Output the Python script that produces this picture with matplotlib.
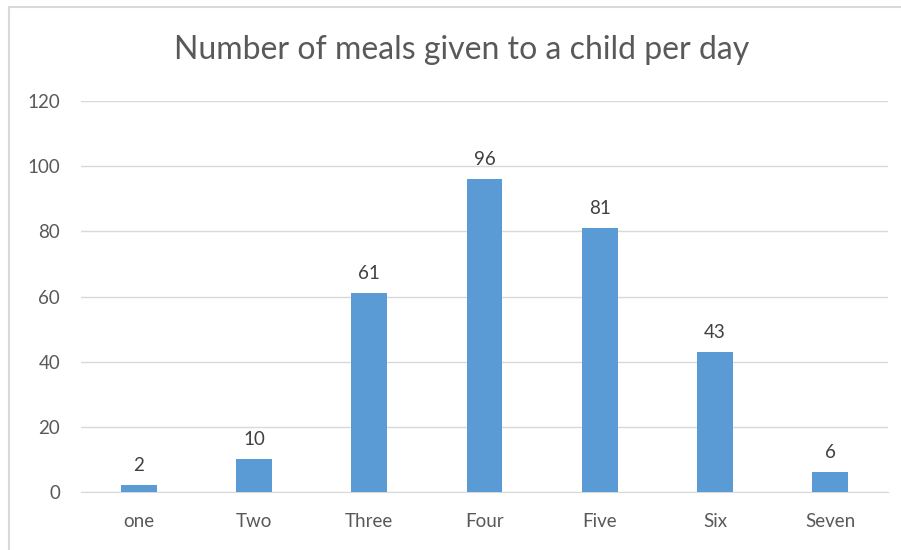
import matplotlib.pyplot as plt
from matplotlib.patches import Rectangle

categories = ["one", "Two", "Three", "Four", "Five", "Six", "Seven"]
meals = [2, 10, 61, 96, 81, 43, 6]
yticks = [0, 20, 40, 60, 80, 100, 120]

plt.rcParams["font.family"] = ["Lato", "DejaVu Sans"]
text_col = "#595959"

fig = plt.figure(figsize=(9.01, 5.5), dpi=100)
ax = fig.add_axes([81 / 901, 1 - 492 / 550, (888 - 81) / 901, (492 - 101) / 550])

x = range(len(categories))
bars = ax.bar(x, meals, width=0.31, color="#5B9BD5", zorder=3)
for b, v in zip(bars, meals):
    ax.annotate(str(v), (b.get_x() + b.get_width() / 2, v), xytext=(0, 8),
                textcoords="offset points", ha="center", va="bottom",
                fontsize=13.5, color="#404040")

ax.set_xlim(-0.5, len(categories) - 0.5)
ax.set_ylim(0, 120)
ax.set_yticks(yticks)
ax.set_xticks(list(x))
ax.set_xticklabels(categories)
ax.yaxis.grid(True, color="#D9D9D9", linewidth=1)
ax.tick_params(axis="both", length=0, labelsize=13.5, labelcolor=text_col)
ax.tick_params(axis="y", pad=15)
ax.tick_params(axis="x", pad=15)
for s in ["top", "right", "left"]:
    ax.spines[s].set_visible(False)
ax.spines["bottom"].set_color("#D9D9D9")

fig.text(462 / 901, 1 - 50 / 550, "Number of meals given to a child per day",
         ha="center", va="center", fontsize=23, color=text_col)

fig.patches.append(Rectangle((9 / 901, -0.01), 1, 1 - 7 / 550 + 0.01,
                             transform=fig.transFigure, fill=False,
                             edgecolor="#D9D9D9", linewidth=1.5))

fig.savefig("out.png", dpi=100)
